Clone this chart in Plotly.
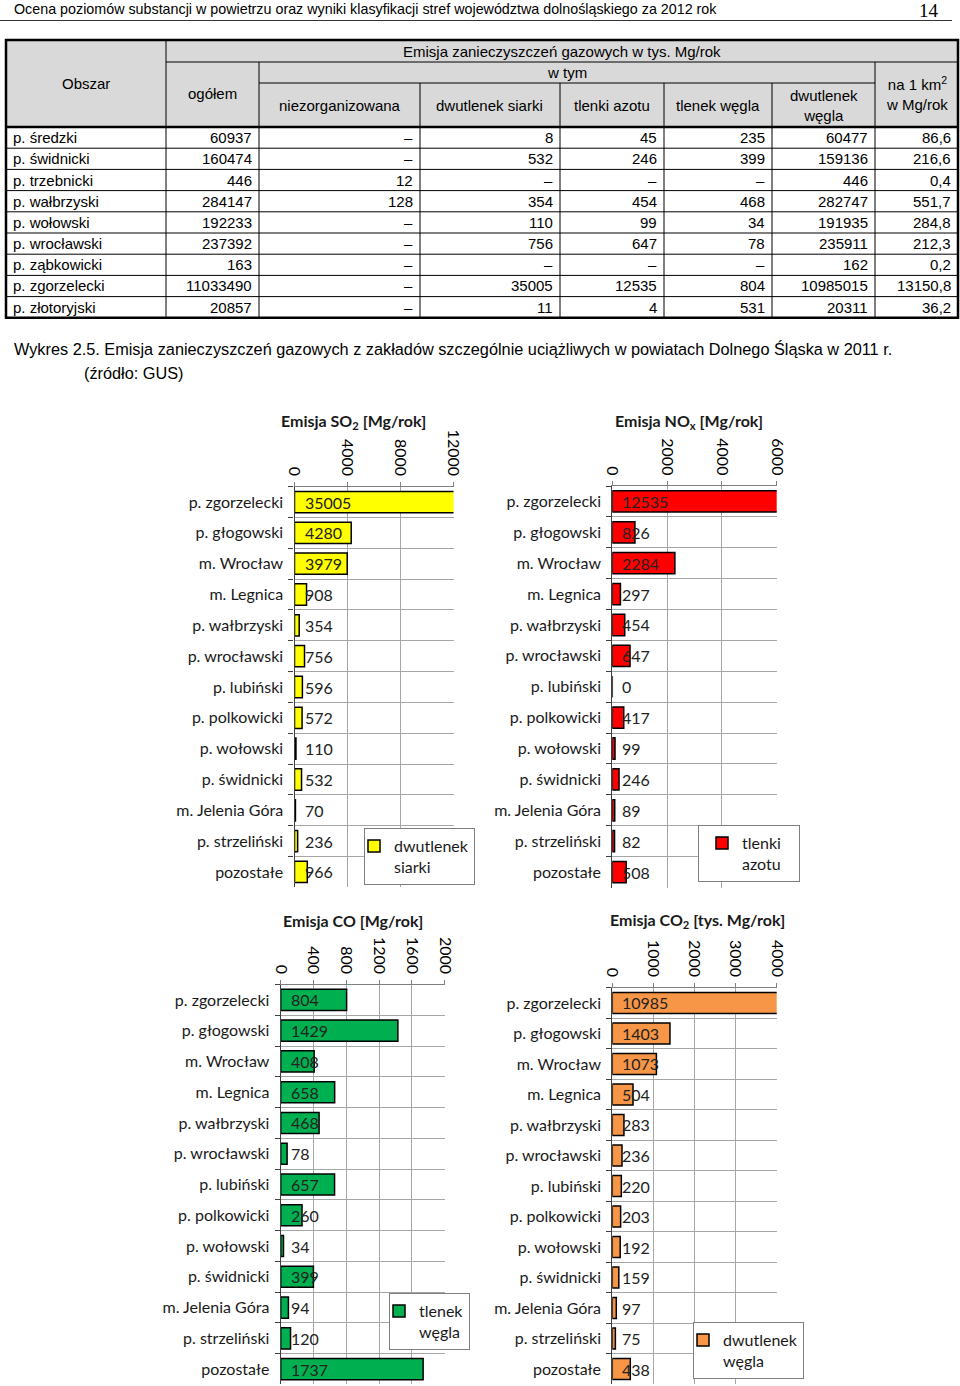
import plotly.graph_objects as go

W, H = 960, 1386


def px(x):
    return x / W


def py(y):
    return 1 - y / H


TF = "Liberation Sans, Arial, sans-serif"
CF = "Lato, Carlito, Calibri, sans-serif"
SF = "Liberation Serif, Times New Roman, serif"
NB = "\u00a0"

# ---------------- page texts ----------------
page_header = "Ocena poziomów substancji w powietrzu oraz wyniki klasyfikacji stref województwa dolnośląskiego za 2012 rok"
page_number = "14"
caption_1 = "Wykres 2.5. Emisja zanieczyszczeń gazowych z zakładów szczególnie uciążliwych w powiatach Dolnego Śląska w 2011 r."
caption_2 = "(źródło: GUS)"

# ---------------- table data ----------------
tbl_head_top = "Emisja zanieczyszczeń gazowych w tys. Mg/rok"
tbl_area_head = "Obszar"
tbl_total_head = "ogółem"
tbl_wtym = "w tym"
tbl_km2_head = "na 1 km<sup>2</sup><br>w Mg/rok"
tbl_sub_heads = ["niezorganizowana", "dwutlenek siarki", "tlenki azotu", "tlenek węgla", "dwutlenek<br>węgla"]

areas = ["p. średzki", "p. świdnicki", "p. trzebnicki", "p. wałbrzyski", "p. wołowski",
         "p. wrocławski", "p. ząbkowicki", "p. zgorzelecki", "p. złotoryjski"]
col_ogolem = ["60937", "160474", "446", "284147", "192233", "237392", "163", "11033490", "20857"]
col_niezorg = ["–", "–", "12", "128", "–", "–", "–", "–", "–"]
col_so2 = ["8", "532", "–", "354", "110", "756", "–", "35005", "11"]
col_nox = ["45", "246", "–", "454", "99", "647", "–", "12535", "4"]
col_co = ["235", "399", "–", "468", "34", "78", "–", "804", "531"]
col_co2 = ["60477", "159136", "446", "282747", "191935", "235911", "162", "10985015", "20311"]
col_km2 = ["86,6", "216,6", "0,4", "551,7", "284,8", "212,3", "0,2", "13150,8", "36,2"]

# ---------------- chart data ----------------
categories = ["p. zgorzelecki", "p. głogowski", "m. Wrocław", "m. Legnica", "p. wałbrzyski",
              "p. wrocławski", "p. lubiński", "p. polkowicki", "p. wołowski", "p. świdnicki",
              "m. Jelenia Góra", "p. strzeliński", "pozostałe"]
so2_values = [35005, 4280, 3979, 908, 354, 756, 596, 572, 110, 532, 70, 236, 966]
nox_values = [12535, 826, 2284, 297, 454, 647, 0, 417, 99, 246, 89, 82, 508]
co_values = [804, 1429, 408, 658, 468, 78, 657, 260, 34, 399, 94, 120, 1737]
co2_values = [10985, 1403, 1073, 504, 283, 236, 220, 203, 192, 159, 97, 75, 438]

chart_titles = ["<b>Emisja SO<sub>2</sub> [Mg/rok]</b>", "<b>Emisja NO<sub>x</sub> [Mg/rok]</b>",
                "<b>Emisja CO [Mg/rok]</b>", "<b>Emisja CO<sub>2</sub> [tys. Mg/rok]</b>"]
legend_names = ["dwutlenek<br>siarki", "tlenki" + NB * 3 + "<br>azotu", "tlenek<br>węgla", "dwutlenek<br>węgla"]
x_ranges = [[0, 12000], [0, 6000], [0, 2000], [0, 4000]]
x_dticks = [4000, 2000, 400, 1000]

# ---------------- layout parameters ----------------
charts = [
    dict(vals=so2_values, color="#FFFF00", xdom=(294.5, 453.5), ydom=(486.6, 887.4),
         tpos=(353, 422), leg=(364, 828), ind=-11),
    dict(vals=nox_values, color="#FF0000", xdom=(612.3, 776.7), ydom=(486.0, 887.5),
         tpos=(689, 422), leg=(698, 825), ind=3),
    dict(vals=co_values, color="#00B050", xdom=(280.7, 444.7), ydom=(984.6, 1384.4),
         tpos=(353, 920), leg=(389, 1293), ind=-11),
    dict(vals=co2_values, color="#F79646", xdom=(612.3, 776.7), ydom=(987.7, 1384.3),
         tpos=(697, 920), leg=(693, 1322), ind=-11),
]

fig = go.Figure()
shapes = []
anns = []


def line(x0, y0, x1, y1, w=1, c="black"):
    shapes.append(dict(type="line", xref="paper", yref="paper", x0=px(x0), y0=py(y0),
                       x1=px(x1), y1=py(y1), line=dict(color=c, width=w)))


def text(x, y, t, xa="center", size=15, family=TF, color="black", ya="middle"):
    anns.append(dict(x=px(x), y=py(y), xref="paper", yref="paper", text=t, showarrow=False,
                     xanchor=xa, yanchor=ya, font=dict(family=family, size=size, color=color)))


# page header
text(12, 9, page_header, xa="left", size=14.3)
text(941, 10, page_number, xa="right", size=19, family=SF)
line(0, 20.5, 952, 20.5, w=1.2, c="#333")

# ---------------- table ----------------
cols = [6, 166, 259, 420, 560, 664, 772, 875, 958]
t_top, h1, h2, h_bot = 40, 62, 83, 127
row_h = 21.2
t_bot = h_bot + row_h * len(areas)

shapes.append(dict(type="rect", xref="paper", yref="paper", x0=px(cols[0]), x1=px(cols[-1]),
                   y0=py(t_top), y1=py(h_bot), fillcolor="#d9d9d9", line=dict(width=0), layer="below"))
# header lines
line(cols[1], h1, cols[-1], h1)
line(cols[2], h2, cols[7], h2)
line(cols[1], t_top, cols[1], t_bot)
for c in (cols[2], cols[7]):
    line(c, h1, c, t_bot)
for c in cols[3:7]:
    line(c, h2, c, t_bot)
for i in range(1, len(areas)):
    line(cols[0], h_bot + i * row_h, cols[-1], h_bot + i * row_h)
line(cols[0], h_bot, cols[-1], h_bot, w=2.5)
shapes.append(dict(type="rect", xref="paper", yref="paper", x0=px(cols[0]), x1=px(cols[-1]),
                   y0=py(t_top), y1=py(t_bot), line=dict(color="black", width=2.5)))

text((cols[0] + cols[1]) / 2, 84, tbl_area_head)
text((cols[1] + cols[-1]) / 2, 52, tbl_head_top)
text((cols[1] + cols[2]) / 2, 94, tbl_total_head)
text((cols[2] + cols[7]) / 2, 73, tbl_wtym)
text((cols[7] + cols[8]) / 2, 94, tbl_km2_head)
for j, hname in enumerate(tbl_sub_heads):
    text((cols[j + 2] + cols[j + 3]) / 2, 105, hname)

body_cols = [col_ogolem, col_niezorg, col_so2, col_nox, col_co, col_co2, col_km2]
for i, a in enumerate(areas):
    yc = h_bot + (i + 0.5) * row_h
    text(cols[0] + 5, yc, a, xa="left")
    for j, colvals in enumerate(body_cols):
        text(cols[j + 2] - 5, yc, colvals[i], xa="right")

# caption
text(12, 349, caption_1, xa="left", size=16.3)
text(82, 373, caption_2, xa="left", size=16.3)

# ---------------- charts ----------------
layout_axes = {}
for k, ch in enumerate(charts):
    sfx = "" if k == 0 else str(k + 1)
    xa, ya = "x" + sfx, "y" + sfx
    leg_key = "legend" + sfx
    fig.add_trace(go.Bar(
        x=ch["vals"], y=categories, orientation="h", xaxis=xa, yaxis=ya,
        name=legend_names[k], legend=leg_key, showlegend=True,
        marker=dict(color=ch["color"], line=dict(color="black", width=1.5)),
        hoverinfo="x+y",
    ))
    layout_axes["xaxis" + sfx] = dict(
        domain=[px(ch["xdom"][0]), px(ch["xdom"][1])], anchor=ya, side="top",
        range=x_ranges[k], tick0=0, dtick=x_dticks[k], tickangle=90, tickformat="d",
        showgrid=True, gridcolor="#a6a6a6", gridwidth=1, zeroline=False,
        showline=True, linecolor="#7f7f7f", linewidth=1,
        ticks="outside", ticklen=4, tickcolor="#7f7f7f",
        tickfont=dict(family=CF, size=16, color="black"), fixedrange=True,
    )
    layout_axes["yaxis" + sfx] = dict(
        domain=[py(ch["ydom"][1]), py(ch["ydom"][0])], anchor=xa, type="category",
        categoryorder="array", categoryarray=categories, range=[len(categories) - 0.5, -0.5],
        tickson="boundaries", ticks="outside", ticklen=5, tickcolor="#404040",
        showgrid=True, gridcolor="#a6a6a6", gridwidth=1,
        showline=True, linecolor="#404040", linewidth=1.2,
        tickfont=dict(family=CF, size=16, color="#1a1a1a"), ticklabelstandoff=7,
        fixedrange=True,
    )
    layout_axes[leg_key] = dict(
        x=px(ch["leg"][0]), y=py(ch["leg"][1]), xanchor="left", yanchor="top",
        bgcolor="white", bordercolor="#7f7f7f", borderwidth=1, valign="top",
        indentation=ch["ind"], itemwidth=30,
        font=dict(family=CF, size=16, color="#1a1a1a"), tracegroupgap=0,
        itemclick=False, itemdoubleclick=False,
    )
    # data labels
    for cat, v in zip(categories, ch["vals"]):
        anns.append(dict(x=0, y=cat, xref=xa, yref=ya, text=str(v), showarrow=False,
                         xanchor="left", yanchor="middle", xshift=8,
                         font=dict(family=CF, size=16, color="#222")))
    # chart title
    text(ch["tpos"][0], ch["tpos"][1], chart_titles[k], size=16, family=CF, color="#1a1a1a")

fig.update_layout(
    width=W, height=H, margin=dict(l=0, r=0, t=0, b=0, pad=0, autoexpand=False),
    paper_bgcolor="white", plot_bgcolor="white",
    barmode="group", bargap=0.31,
    shapes=shapes, annotations=anns, showlegend=True,
    **layout_axes,
)

fig.write_html("out.html", config={"displayModeBar": False},
               post_script="document.body.style.margin='0';document.body.style.overflow='hidden';")
